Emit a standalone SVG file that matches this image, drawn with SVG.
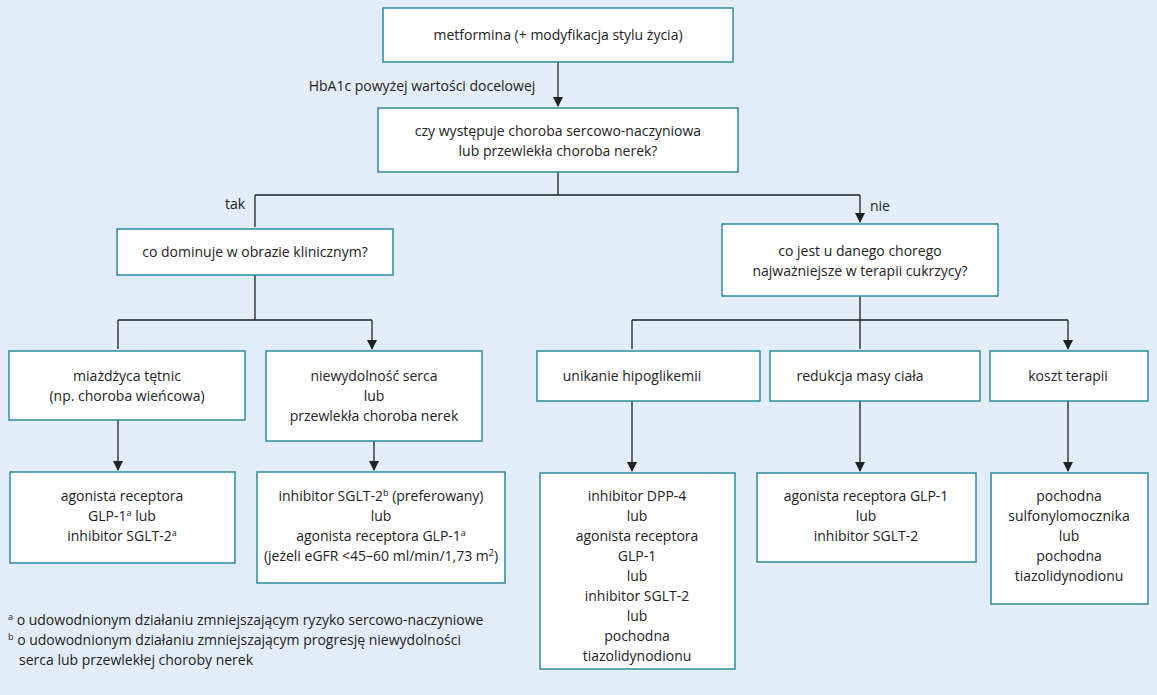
<svg xmlns="http://www.w3.org/2000/svg" width="1157" height="695" viewBox="0 0 1157 695">
<style>
.b{fill:#fff;stroke:#2a8ca0;stroke-width:1.5}
text{font-family:"Open Sans","Liberation Sans",sans-serif;font-size:14px;fill:#222;text-anchor:middle}
.c{fill:none;stroke:#222;stroke-width:1.3}
.l{text-anchor:start}
</style>
<defs><marker id="a" markerWidth="10" markerHeight="10" refX="9" refY="5" orient="auto" markerUnits="userSpaceOnUse"><path d="M0,0L10,5L0,10z" fill="#222"/></marker></defs>
<rect width="1157" height="695" fill="#e3edf7"/>
<g id="connectors">
<path class="c" d="M558,62V106" marker-end="url(#a)"/>
<path class="c" d="M558,172V195M255,195H860M255,195V227M860,195V222" marker-end="url(#a)"/>
<path class="c" d="M255,275V320M118,320H372M118,320V349M372,320V349" marker-end="url(#a)"/>
<path class="c" d="M860,296V320M632,320H1068M632,320V349M860,320V349M1068,320V349" marker-end="url(#a)"/>
<path class="c" d="M118,420V470" marker-end="url(#a)"/>
<path class="c" d="M374,441V470" marker-end="url(#a)"/>
<path class="c" d="M632,401V471" marker-end="url(#a)"/>
<path class="c" d="M860,401V471" marker-end="url(#a)"/>
<path class="c" d="M1068,401V471" marker-end="url(#a)"/>
</g>
<text x="422" y="91">HbA1c powyżej wartości docelowej</text>
<text x="235" y="209">tak</text>
<text x="880" y="211">nie</text>
<g id="n1"><rect class="b" x="383" y="8" width="350" height="54"/><text x="558" y="40">metformina (+ modyfikacja stylu życia)</text></g>
<g id="n2"><rect class="b" x="378" y="108" width="360" height="64"/><text x="558" y="136">czy występuje choroba sercowo-naczyniowa</text><text x="558" y="156">lub przewlekła choroba nerek?</text></g>
<g id="n3"><rect class="b" x="117" y="229" width="276" height="46"/><text x="255" y="257">co dominuje w obrazie klinicznym?</text></g>
<g id="n4"><rect class="b" x="722" y="224" width="276" height="72"/><text x="860" y="256">co jest u danego chorego</text><text x="860" y="276">najważniejsze w terapii cukrzycy?</text></g>
<g id="n5"><rect class="b" x="9" y="351" width="236" height="69"/><text x="127" y="381">miażdżyca tętnic</text><text x="127" y="401">(np. choroba wieńcowa)</text></g>
<g id="n6"><rect class="b" x="266" y="351" width="216" height="90"/><text x="374" y="381">niewydolność serca</text><text x="374" y="401">lub</text><text x="374" y="421">przewlekła choroba nerek</text></g>
<g id="n7"><rect class="b" x="537" y="351" width="223" height="50"/><text x="632" y="381">unikanie hipoglikemii</text></g>
<g id="n8"><rect class="b" x="770" y="351" width="210" height="50"/><text x="860" y="381">redukcja masy ciała</text></g>
<g id="n9"><rect class="b" x="990" y="351" width="158" height="50"/><text x="1068" y="381">koszt terapii</text></g>
<g id="n10"><rect class="b" x="10" y="472" width="225" height="91"/><text x="122" y="501">agonista receptora</text><text x="122" y="521">GLP-1<tspan font-size="9" dy="-5">a</tspan><tspan dy="5"> lub</tspan></text><text x="122" y="541">inhibitor SGLT-2<tspan font-size="9" dy="-5">a</tspan></text></g>
<g id="n11"><rect class="b" x="257" y="472" width="248" height="111"/><text x="381" y="501">inhibitor SGLT-2<tspan font-size="9" dy="-5">b</tspan><tspan dy="5"> (preferowany)</tspan></text><text x="381" y="521">lub</text><text x="381" y="541">agonista receptora GLP-1<tspan font-size="9" dy="-5">a</tspan></text><text x="381" y="561">(jeżeli eGFR &lt;45–60 ml/min/1,73 m<tspan font-size="9" dy="-5">2</tspan><tspan dy="5">)</tspan></text></g>
<g id="n12"><rect class="b" x="540" y="473" width="195" height="196"/><text x="637" y="501">inhibitor DPP-4</text><text x="637" y="521">lub</text><text x="637" y="541">agonista receptora</text><text x="637" y="561">GLP-1</text><text x="637" y="581">lub</text><text x="637" y="601">inhibitor SGLT-2</text><text x="637" y="621">lub</text><text x="637" y="641">pochodna</text><text x="637" y="661">tiazolidynodionu</text></g>
<g id="n13"><rect class="b" x="757" y="473" width="219" height="89"/><text x="866" y="501">agonista receptora GLP-1</text><text x="866" y="521">lub</text><text x="866" y="541">inhibitor SGLT-2</text></g>
<g id="n14"><rect class="b" x="991" y="473" width="157" height="131"/><text x="1069" y="501">pochodna</text><text x="1069" y="521">sulfonylomocznika</text><text x="1069" y="541">lub</text><text x="1069" y="561">pochodna</text><text x="1069" y="581">tiazolidynodionu</text></g>
<g id="footnotes">
<text class="l" x="8" y="625"><tspan font-size="9" dy="-5">a</tspan><tspan dy="5"> o udowodnionym działaniu zmniejszającym ryzyko sercowo-naczyniowe</tspan></text>
<text class="l" x="8" y="645"><tspan font-size="9" dy="-5">b</tspan><tspan dy="5"> o udowodnionym działaniu zmniejszającym progresję niewydolności</tspan></text>
<text class="l" x="19" y="665">serca lub przewlekłej choroby nerek</text>
</g>
</svg>
